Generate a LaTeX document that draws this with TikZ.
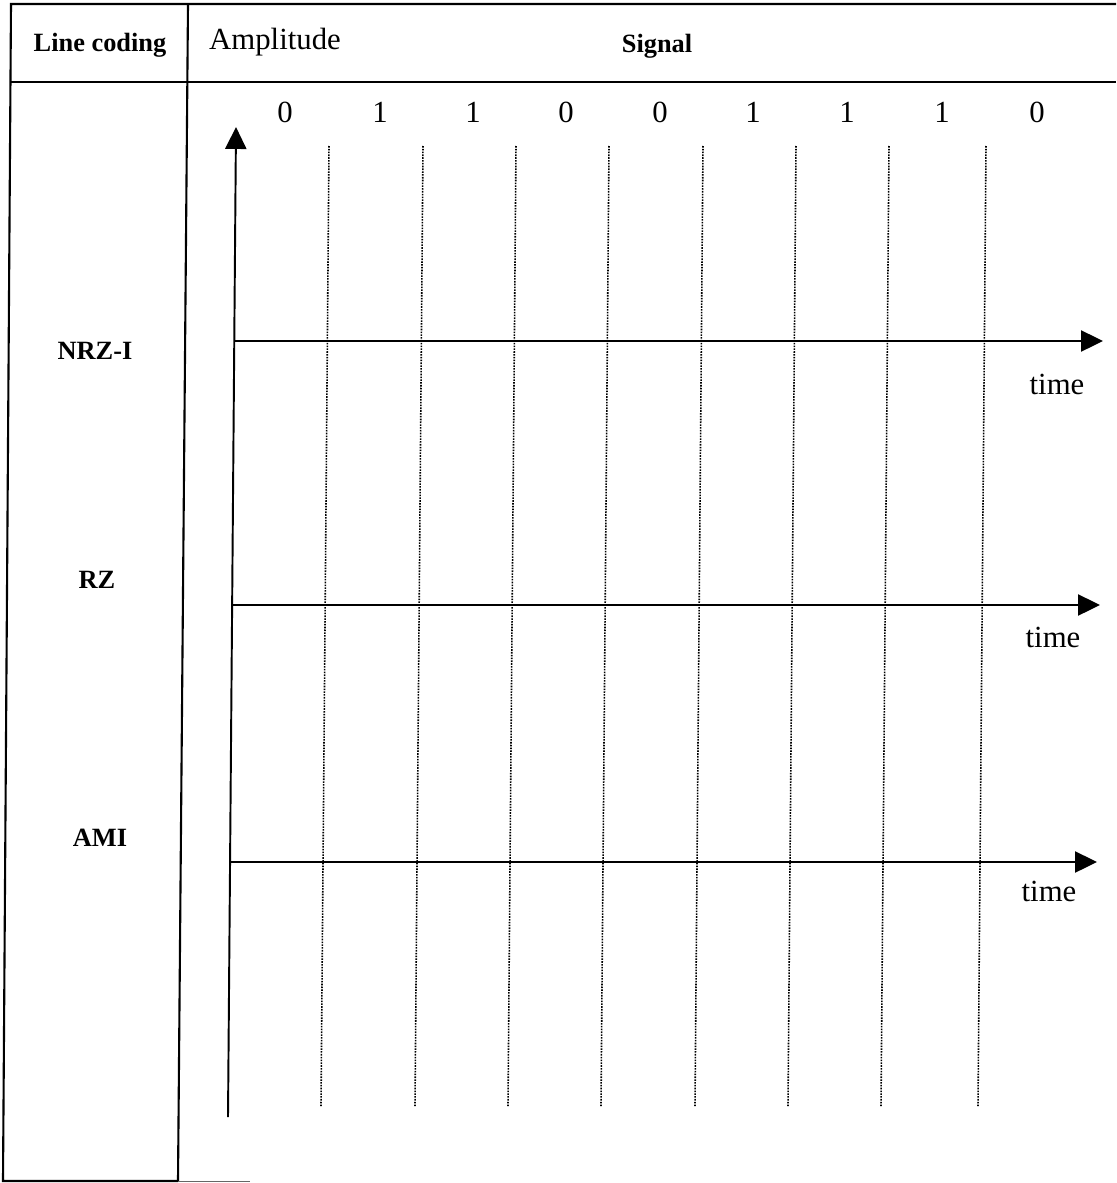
\documentclass[tikz,border=0pt]{standalone}
\usepackage{fontspec}
\setmainfont{Liberation Serif}
\usetikzlibrary{arrows.meta}

\begin{document}
\begin{tikzpicture}[x=0.02cm,y=-0.02cm,>={Triangle[length=12.5pt,width=12pt]},
  txt/.style={font=\fontsize{17.5}{20}\selectfont,inner sep=0pt},
  head/.style={font=\fontsize{15}{18}\selectfont\bfseries,inner sep=0pt},
  rule/.style={line width=1.2pt},
  grid/.style={line width=0.9pt,dash pattern=on 0.9pt off 0.7pt}]
\useasboundingbox (0,0) rectangle (1116,1183);

% table frame
\draw[rule] (1116,4) -- (11,4) -- (3,1181) -- (178,1181);
\draw[line width=0.5pt,black!60] (178,1181) -- (250,1181);
\draw[rule] (11,82) -- (1116,82);
\draw[rule] (188,4) -- (178,1181);

% header
\node[head] (coding) at (100,45) {Line coding};
\node[txt] (ampl) at (275,42) {Amplitude};
\node[head] (signal) at (657,46) {Signal};

% row labels
\node[head] (nrzi) at (95,351) {NRZ-I};
\node[head] (rz) at (97,580) {RZ};
\node[head] (ami) at (100,838) {AMI};

% bits
\node[txt] (b1) at (285,112) {0};
\node[txt] (b2) at (380,112) {1};
\node[txt] (b3) at (473,112) {1};
\node[txt] (b4) at (566,112) {0};
\node[txt] (b5) at (660,112) {0};
\node[txt] (b6) at (753,112) {1};
\node[txt] (b7) at (847,112) {1};
\node[txt] (b8) at (942,112) {1};
\node[txt] (b9) at (1037,112) {0};

% bit borders
\foreach \x in {329,423,516,609,703,796,889,986}
  \draw[grid] (\x,146) -- ({\x-8},1106);

% amplitude axis
\coordinate (ybot) at (228,1117);
\coordinate (ytop) at (236,127);
\draw[->,line width=1.1pt] (ybot) -- (ytop);

% time axes
\coordinate (n0) at (234,341);
\coordinate (n1) at (1103,341);
\draw[->,line width=1.1pt] (n0) -- (n1);
\node[txt] (tn) at (1057,384) {time};

\coordinate (r0) at (232,605);
\coordinate (r1) at (1100,605);
\draw[->,line width=1.1pt] (r0) -- (r1);
\node[txt] (tr) at (1053,637) {time};

\coordinate (a0) at (230,862);
\coordinate (a1) at (1097,862);
\draw[->,line width=1.1pt] (a0) -- (a1);
\node[txt] (ta) at (1049,891) {time};
\end{tikzpicture}
\end{document}
